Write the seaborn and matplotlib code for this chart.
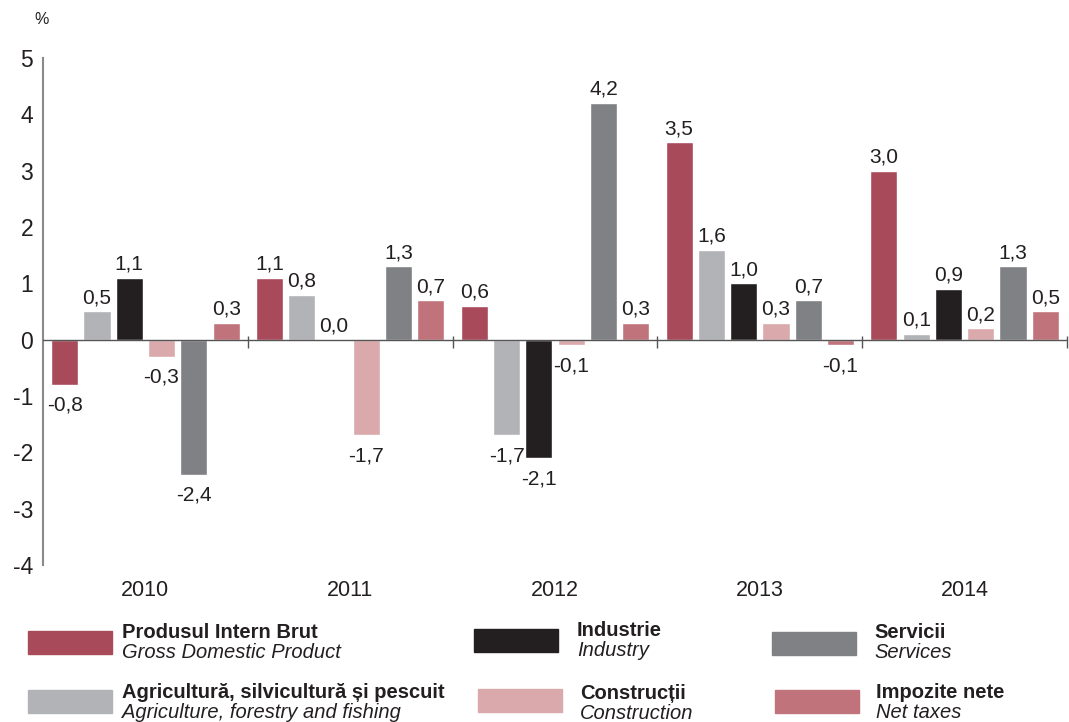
import pandas as pd
import matplotlib.pyplot as plt
import seaborn as sns
from matplotlib.patches import Rectangle

# data
years = ['2010', '2011', '2012', '2013', '2014']
series_ro = ['Produsul Intern Brut', 'Agricultură, silvicultură și pescuit', 'Industrie',
             'Construcții', 'Servicii', 'Impozite nete']
series_en = ['Gross Domestic Product', 'Agriculture, forestry and fishing', 'Industry',
             'Construction', 'Services', 'Net taxes']
pib = [-0.8, 1.1, 0.6, 3.5, 3.0]
agricultura = [0.5, 0.8, -1.7, 1.6, 0.1]
industrie = [1.1, 0.0, -2.1, 1.0, 0.9]
constructii = [-0.3, -1.7, -0.1, 0.3, 0.2]
servicii = [-2.4, 1.3, 4.2, 0.7, 1.3]
impozite = [0.3, 0.7, 0.3, -0.1, 0.5]
colors = ['#A84A5A', '#B2B3B7', '#231F20', '#DAA9AB', '#808184', '#C0737A']

values = [pib, agricultura, industrie, constructii, servicii, impozite]
rows = []
for name, vals in zip(series_ro, values):
    for y, v in zip(years, vals):
        rows.append({'year': y, 'series': name, 'value': v})
df = pd.DataFrame(rows)

sns.set_style('white')
plt.rcParams['font.family'] = ['Liberation Sans', 'DejaVu Sans']
text_color = '#231F20'

W, H = 1069, 722
fig = plt.figure(figsize=(W / 100, H / 100), dpi=100)
ax = fig.add_axes([43 / W, 1 - 565 / H, (1067 - 43) / W, (565 - 58) / H])

sns.barplot(data=df, x='year', y='value', hue='series', hue_order=series_ro,
            palette=colors, width=0.946, gap=0.16, ax=ax, legend=False,
            saturation=1, errorbar=None)

ax.set_xlim(-0.5, 4.5)
ax.set_ylim(-4, 5)
ax.set_yticks(range(-4, 6))
ax.set_yticklabels([str(t) for t in range(-4, 6)], fontsize=16.5, color=text_color)
ax.tick_params(axis='y', direction='inout', length=8, width=1, color='#333333', pad=3)
ax.tick_params(axis='x', length=0, pad=11, labelsize=15.5, labelcolor=text_color)
ax.set_xlabel('')
ax.set_ylabel('')
for s in ['top', 'right', 'bottom']:
    ax.spines[s].set_visible(False)
ax.spines['left'].set_color('#8a8a8a')
ax.spines['left'].set_linewidth(1.5)

ax.axhline(0, color='#555555', lw=1, zorder=3)
ax.vlines([0.5, 1.5, 2.5, 3.5, 4.5], -0.15, 0.07, color='#555555', lw=1,
          clip_on=False, zorder=3)

# value labels: a bit more room below negative bars
for c in ax.containers:
    hs = [b.get_height() for b in c]
    pos = [f"{h:.1f}".replace('.', ',') if h >= 0 else '' for h in hs]
    neg = [f"{h:.1f}".replace('.', ',') if h < 0 else '' for h in hs]
    ax.bar_label(c, labels=pos, padding=3, fontsize=15, color=text_color)
    ax.bar_label(c, labels=neg, padding=8, fontsize=15, color=text_color)

fig.text(42 / W, 1 - 20 / H, '%', fontsize=11.5, color=text_color, ha='center', va='center')

# legend: (rect x, rect top y, series index, text x, bold baseline y)
items = [
    (28, 631, 0, 122, 638), (474, 629, 2, 577, 636), (772, 632, 4, 874, 638),
    (28, 690, 1, 122, 698), (478, 689, 3, 580, 699), (775, 690, 5, 876, 698),
]
for x, y, i, tx, by in items:
    fig.add_artist(Rectangle((x / W, 1 - (y + 23) / H), 84 / W, 23 / H,
                             transform=fig.transFigure, color=colors[i]))
    fig.text(tx / W, 1 - by / H, series_ro[i], fontsize=14.5, fontweight='bold',
             color=text_color, va='baseline')
    fig.text(tx / W, 1 - (by + 20) / H, series_en[i], fontsize=14.5, style='italic',
             color=text_color, va='baseline')

plt.savefig('out.png', dpi=100)
